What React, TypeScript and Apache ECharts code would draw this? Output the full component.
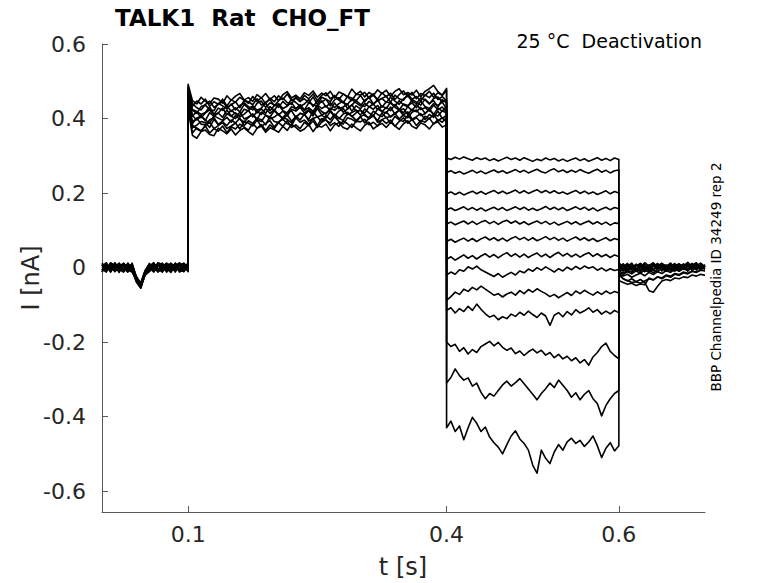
import React, { useEffect, useRef } from "react";
import * as echarts from "echarts";

// ---- axes ----
const X_MIN = 0;
const X_MAX = 0.7;
const Y_MIN = -0.656;
const Y_MAX = 0.6;
const xTickValues = [0.1, 0.4, 0.6];
const yTickValues = [-0.6, -0.4, -0.2, 0, 0.2, 0.4, 0.6];

// ---- texts ----
const titleText = "TALK1  Rat  CHO_FT";
const conditionText = "25 °C  Deactivation";
const sourceText = "BBP Channelpedia ID 34249 rep 2";
const xName = "t [s]";
const yName = "I [nA]";

// ---- sampling: each phase is sampled every 5 ms from its start time (s) ----
const SAMPLE_STEP = 0.005;
const phaseStarts = [0, 0.1, 0.4, 0.6];

// baseline 0 .. 0.1 s (nA)
const baselineTraces = [
  [0.006, -0.008, 0.011, -0.004, 0.008, -0.011, 0.003, 0.009, -0.03, -0.046, -0.012, 0.005, -0.007, 0.012, -0.003, 0.008, -0.01, 0.004, 0.013, -0.006, 0.003],
  [-0.007, 0.009, -0.003, 0.012, -0.01, 0.005, -0.008, 0.004, -0.036, -0.052, -0.018, -0.004, 0.009, -0.008, 0.007, -0.012, 0.005, -0.003, 0.008, 0.011, -0.004],
  [0.012, -0.003, 0.005, -0.011, 0.004, 0.011, -0.004, -0.008, -0.026, -0.042, -0.009, 0.008, -0.011, 0.004, 0.011, -0.005, 0.012, -0.008, -0.003, 0.007, 0.009],
  [-0.011, 0.004, -0.012, 0.007, 0.001, -0.005, 0.012, -0.003, -0.038, -0.055, -0.02, -0.011, 0.003, -0.012, 0.005, 0.009, -0.004, 0.011, -0.009, 0.003, -0.008],
  [0.003, 0.013, -0.007, 0.003, -0.013, 0.008, 0.005, -0.011, -0.031, -0.048, -0.014, 0.003, 0.013, -0.005, -0.011, 0.004, 0.008, -0.012, 0.005, -0.008, 0.007],
  [-0.004, -0.012, 0.008, -0.007, 0.011, -0.003, -0.012, 0.007, -0.024, -0.043, -0.016, -0.008, 0.005, 0.009, -0.007, -0.003, -0.013, 0.007, -0.005, 0.012, -0.001],
  [0.009, 0.001, -0.009, 0.013, -0.005, -0.012, 0.008, 0.001, -0.034, -0.05, -0.01, 0.011, -0.004, -0.009, 0.012, -0.011, 0.003, 0.009, -0.012, -0.004, 0.011],
  [-0.008, 0.007, 0.004, -0.009, 0.009, 0.003, -0.007, -0.012, -0.033, -0.054, -0.017, -0.001, -0.012, 0.007, 0.003, 0.012, -0.008, -0.005, 0.011, 0.004, -0.011],
  [0.001, -0.005, 0.013, 0.005, -0.008, 0.012, -0.001, 0.008, -0.027, -0.045, -0.012, 0.007, 0.008, -0.003, -0.009, 0.001, 0.011, 0.003, -0.007, -0.011, 0.005],
  [-0.012, 0.011, -0.005, -0.001, 0.007, -0.008, 0.011, -0.005, -0.035, -0.05, -0.019, -0.005, -0.008, 0.013, 0.008, -0.008, -0.005, 0.012, 0.003, 0.008, -0.007],
  [0.008, -0.009, 0.003, 0.009, -0.003, 0.007, -0.011, 0.012, -0.029, -0.041, -0.008, 0.009, 0.004, -0.011, -0.004, 0.011, 0.007, -0.009, 0.009, -0.003, 0.012],
  [-0.003, 0.005, -0.011, 0.003, 0.012, -0.009, 0.004, -0.009, -0.039, -0.055, -0.015, 0.001, -0.005, 0.008, -0.012, 0.005, -0.011, 0.005, -0.008, 0.009, 0.001],
  [0.007, -0.004, 0.009, -0.008, -0.004, 0.009, -0.005, 0.005, -0.032, -0.047, -0.013, -0.009, 0.011, -0.007, 0.009, -0.004, 0.009, -0.007, 0.007, -0.009, 0.004],
];

// activation 0.1 .. 0.4 s (nA)
const activationTraces = [
  [0.492, 0.448, 0.439, 0.457, 0.446, 0.44, 0.455, 0.452, 0.441, 0.461, 0.449, 0.46, 0.467, 0.45, 0.456, 0.446, 0.464, 0.455, 0.467, 0.451, 0.461, 0.448, 0.464, 0.472, 0.455, 0.463, 0.453, 0.469, 0.462, 0.474, 0.457, 0.468, 0.461, 0.473, 0.455, 0.471, 0.466, 0.458, 0.479, 0.465, 0.473, 0.458, 0.47, 0.462, 0.477, 0.467, 0.476, 0.459, 0.473, 0.48, 0.464, 0.47, 0.463, 0.476, 0.458, 0.473, 0.48, 0.489, 0.472, 0.463, 0.481],
  [0.486, 0.433, 0.447, 0.439, 0.452, 0.433, 0.445, 0.438, 0.452, 0.434, 0.45, 0.444, 0.457, 0.449, 0.441, 0.459, 0.446, 0.456, 0.44, 0.455, 0.445, 0.461, 0.451, 0.466, 0.448, 0.455, 0.445, 0.462, 0.453, 0.466, 0.448, 0.462, 0.469, 0.453, 0.461, 0.451, 0.466, 0.458, 0.448, 0.465, 0.463, 0.47, 0.455, 0.462, 0.452, 0.469, 0.459, 0.468, 0.451, 0.464, 0.474, 0.459, 0.47, 0.453, 0.467, 0.462, 0.473, 0.457, 0.469, 0.462, 0.475],
  [0.478, 0.44, 0.429, 0.423, 0.438, 0.447, 0.43, 0.438, 0.446, 0.43, 0.437, 0.445, 0.429, 0.448, 0.445, 0.437, 0.453, 0.436, 0.444, 0.451, 0.434, 0.448, 0.455, 0.443, 0.438, 0.459, 0.447, 0.453, 0.442, 0.458, 0.438, 0.457, 0.452, 0.445, 0.462, 0.449, 0.442, 0.459, 0.455, 0.448, 0.462, 0.445, 0.458, 0.466, 0.447, 0.454, 0.46, 0.444, 0.463, 0.453, 0.449, 0.466, 0.452, 0.459, 0.447, 0.463, 0.456, 0.468, 0.451, 0.459, 0.447],
  [0.47, 0.422, 0.414, 0.432, 0.436, 0.424, 0.421, 0.441, 0.434, 0.426, 0.439, 0.423, 0.435, 0.442, 0.432, 0.423, 0.441, 0.447, 0.43, 0.442, 0.437, 0.43, 0.446, 0.435, 0.452, 0.443, 0.433, 0.439, 0.451, 0.432, 0.447, 0.444, 0.452, 0.434, 0.45, 0.456, 0.443, 0.438, 0.452, 0.442, 0.434, 0.449, 0.457, 0.439, 0.448, 0.454, 0.443, 0.457, 0.447, 0.438, 0.453, 0.461, 0.446, 0.44, 0.455, 0.45, 0.439, 0.454, 0.458, 0.444, 0.45],
  [0.466, 0.424, 0.419, 0.411, 0.416, 0.431, 0.411, 0.428, 0.422, 0.434, 0.419, 0.429, 0.418, 0.438, 0.427, 0.434, 0.422, 0.428, 0.442, 0.421, 0.435, 0.44, 0.427, 0.433, 0.443, 0.426, 0.437, 0.423, 0.442, 0.437, 0.432, 0.448, 0.431, 0.442, 0.429, 0.44, 0.446, 0.427, 0.436, 0.448, 0.438, 0.432, 0.446, 0.438, 0.451, 0.43, 0.445, 0.441, 0.433, 0.448, 0.437, 0.431, 0.451, 0.444, 0.436, 0.452, 0.44, 0.448, 0.431, 0.451, 0.442],
  [0.46, 0.407, 0.418, 0.402, 0.415, 0.423, 0.41, 0.415, 0.428, 0.41, 0.422, 0.413, 0.408, 0.425, 0.421, 0.431, 0.415, 0.426, 0.414, 0.432, 0.422, 0.437, 0.421, 0.415, 0.432, 0.426, 0.436, 0.422, 0.429, 0.419, 0.436, 0.427, 0.434, 0.422, 0.442, 0.426, 0.431, 0.439, 0.42, 0.434, 0.426, 0.441, 0.431, 0.439, 0.424, 0.434, 0.427, 0.444, 0.43, 0.423, 0.439, 0.435, 0.442, 0.429, 0.447, 0.432, 0.427, 0.44, 0.435, 0.444, 0.426],
  [0.455, 0.408, 0.396, 0.406, 0.395, 0.416, 0.406, 0.415, 0.403, 0.423, 0.407, 0.415, 0.404, 0.412, 0.422, 0.404, 0.419, 0.411, 0.427, 0.414, 0.424, 0.41, 0.42, 0.407, 0.425, 0.42, 0.43, 0.415, 0.424, 0.413, 0.431, 0.419, 0.412, 0.428, 0.422, 0.432, 0.417, 0.425, 0.437, 0.42, 0.422, 0.415, 0.432, 0.425, 0.435, 0.418, 0.43, 0.421, 0.438, 0.425, 0.415, 0.432, 0.421, 0.438, 0.424, 0.429, 0.42, 0.436, 0.424, 0.431, 0.418],
  [0.45, 0.387, 0.4, 0.408, 0.395, 0.388, 0.407, 0.401, 0.395, 0.413, 0.406, 0.4, 0.418, 0.399, 0.404, 0.412, 0.398, 0.417, 0.409, 0.404, 0.421, 0.409, 0.402, 0.416, 0.421, 0.402, 0.414, 0.41, 0.421, 0.407, 0.427, 0.41, 0.415, 0.422, 0.407, 0.42, 0.427, 0.41, 0.416, 0.423, 0.409, 0.426, 0.415, 0.407, 0.426, 0.419, 0.415, 0.431, 0.412, 0.422, 0.426, 0.411, 0.425, 0.418, 0.43, 0.414, 0.423, 0.411, 0.428, 0.42, 0.432],
  [0.444, 0.391, 0.401, 0.385, 0.383, 0.397, 0.402, 0.384, 0.393, 0.403, 0.39, 0.408, 0.398, 0.391, 0.403, 0.412, 0.396, 0.392, 0.409, 0.399, 0.404, 0.413, 0.397, 0.41, 0.393, 0.404, 0.414, 0.41, 0.398, 0.419, 0.404, 0.409, 0.401, 0.419, 0.405, 0.399, 0.412, 0.417, 0.405, 0.415, 0.423, 0.408, 0.402, 0.42, 0.411, 0.405, 0.418, 0.404, 0.414, 0.423, 0.408, 0.402, 0.417, 0.423, 0.408, 0.413, 0.426, 0.411, 0.407, 0.421, 0.415],
  [0.44, 0.375, 0.382, 0.392, 0.389, 0.376, 0.398, 0.383, 0.391, 0.381, 0.396, 0.388, 0.401, 0.381, 0.394, 0.387, 0.401, 0.397, 0.383, 0.406, 0.392, 0.389, 0.402, 0.398, 0.388, 0.407, 0.396, 0.412, 0.393, 0.4, 0.405, 0.391, 0.408, 0.397, 0.412, 0.401, 0.395, 0.414, 0.407, 0.395, 0.405, 0.411, 0.399, 0.407, 0.394, 0.415, 0.402, 0.406, 0.414, 0.399, 0.41, 0.418, 0.398, 0.405, 0.413, 0.397, 0.411, 0.403, 0.42, 0.4, 0.409],
  [0.436, 0.383, 0.372, 0.366, 0.381, 0.39, 0.373, 0.381, 0.389, 0.373, 0.38, 0.388, 0.372, 0.391, 0.388, 0.38, 0.396, 0.379, 0.387, 0.394, 0.377, 0.391, 0.398, 0.386, 0.381, 0.402, 0.39, 0.396, 0.385, 0.401, 0.381, 0.4, 0.395, 0.388, 0.405, 0.392, 0.385, 0.402, 0.398, 0.391, 0.405, 0.388, 0.401, 0.409, 0.39, 0.397, 0.403, 0.387, 0.406, 0.396, 0.392, 0.409, 0.395, 0.402, 0.39, 0.406, 0.399, 0.411, 0.394, 0.402, 0.39],
  [0.43, 0.361, 0.375, 0.367, 0.38, 0.361, 0.373, 0.366, 0.38, 0.362, 0.378, 0.372, 0.385, 0.377, 0.369, 0.387, 0.374, 0.384, 0.368, 0.383, 0.373, 0.389, 0.379, 0.394, 0.376, 0.383, 0.373, 0.39, 0.381, 0.394, 0.376, 0.39, 0.397, 0.381, 0.389, 0.379, 0.394, 0.386, 0.376, 0.393, 0.391, 0.398, 0.383, 0.39, 0.38, 0.397, 0.387, 0.396, 0.379, 0.392, 0.402, 0.387, 0.398, 0.381, 0.395, 0.39, 0.401, 0.385, 0.397, 0.39, 0.403],
  [0.425, 0.355, 0.347, 0.365, 0.369, 0.357, 0.354, 0.374, 0.367, 0.359, 0.372, 0.356, 0.368, 0.375, 0.365, 0.356, 0.374, 0.38, 0.363, 0.375, 0.37, 0.363, 0.379, 0.368, 0.385, 0.376, 0.366, 0.372, 0.384, 0.365, 0.38, 0.377, 0.385, 0.367, 0.383, 0.389, 0.376, 0.371, 0.385, 0.375, 0.367, 0.382, 0.39, 0.372, 0.381, 0.387, 0.376, 0.39, 0.38, 0.371, 0.386, 0.394, 0.379, 0.373, 0.388, 0.383, 0.372, 0.387, 0.391, 0.377, 0.383],
];

// deactivation 0.4 .. 0.6 s (nA)
const deactivationTraces = [
  [0.294, 0.29, 0.296, 0.291, 0.297, 0.292, 0.288, 0.295, 0.29, 0.294, 0.287, 0.292, 0.286, 0.291, 0.296, 0.29, 0.294, 0.288, 0.295, 0.29, 0.285, 0.291, 0.287, 0.294, 0.289, 0.293, 0.286, 0.291, 0.285, 0.29, 0.294, 0.287, 0.292, 0.285, 0.29, 0.295, 0.288, 0.293, 0.287, 0.294, 0.29],
  [0.255, 0.26, 0.253, 0.258, 0.251, 0.256, 0.261, 0.254, 0.259, 0.252, 0.257, 0.262, 0.255, 0.26, 0.253, 0.258, 0.263, 0.256, 0.261, 0.254, 0.259, 0.264, 0.257, 0.254, 0.261, 0.265, 0.257, 0.262, 0.255, 0.261, 0.256, 0.263, 0.257, 0.253, 0.259, 0.264, 0.256, 0.261, 0.254, 0.26, 0.262],
  [0.198, 0.203, 0.196, 0.202, 0.195, 0.2, 0.205, 0.198, 0.204, 0.197, 0.202, 0.207, 0.199, 0.205, 0.198, 0.203, 0.208, 0.2, 0.206, 0.199, 0.204, 0.209, 0.201, 0.207, 0.2, 0.206, 0.199, 0.203, 0.197, 0.202, 0.207, 0.199, 0.205, 0.198, 0.203, 0.196, 0.201, 0.206, 0.198, 0.204, 0.2],
  [0.155, 0.16, 0.153, 0.158, 0.163, 0.155, 0.161, 0.154, 0.16, 0.152, 0.157, 0.162, 0.155, 0.161, 0.153, 0.158, 0.163, 0.156, 0.162, 0.154, 0.159, 0.153, 0.158, 0.164, 0.156, 0.162, 0.155, 0.161, 0.153, 0.158, 0.163, 0.156, 0.162, 0.154, 0.16, 0.152, 0.157, 0.162, 0.155, 0.161, 0.158],
  [0.117, 0.122, 0.115, 0.12, 0.125, 0.117, 0.124, 0.116, 0.122, 0.126, 0.118, 0.124, 0.116, 0.123, 0.127, 0.119, 0.125, 0.117, 0.123, 0.115, 0.12, 0.125, 0.118, 0.124, 0.116, 0.122, 0.114, 0.119, 0.124, 0.117, 0.123, 0.115, 0.12, 0.125, 0.117, 0.123, 0.116, 0.122, 0.114, 0.12, 0.118],
  [0.07, 0.076, 0.068, 0.074, 0.079, 0.071, 0.078, 0.07, 0.077, 0.082, 0.074, 0.08, 0.072, 0.079, 0.071, 0.078, 0.083, 0.075, 0.081, 0.073, 0.08, 0.072, 0.077, 0.083, 0.075, 0.081, 0.073, 0.079, 0.071, 0.077, 0.082, 0.074, 0.08, 0.072, 0.078, 0.07, 0.075, 0.08, 0.072, 0.078, 0.074],
  [0.022, 0.029, 0.02, 0.027, 0.034, 0.025, 0.032, 0.023, 0.031, 0.037, 0.028, 0.035, 0.026, 0.034, 0.04, 0.03, 0.037, 0.028, 0.036, 0.027, 0.034, 0.039, 0.029, 0.036, 0.027, 0.035, 0.041, 0.031, 0.038, 0.029, 0.036, 0.028, 0.035, 0.04, 0.03, 0.037, 0.029, 0.035, 0.027, 0.034, 0.03],
  [-0.02, -0.012, -0.018, -0.006, -0.01, 0.002, -0.004, 0.004, -0.006, -0.012, -0.018, -0.024, -0.016, -0.026, -0.019, -0.013, -0.02, -0.009, -0.014, -0.004, -0.01, 0.0, -0.007, 0.002, -0.005, -0.012, -0.003, -0.009, 0.001, -0.006, 0.003, -0.004, 0.004, -0.002, 0.002, -0.007, -0.001, -0.009, -0.003, -0.008, -0.005],
  [-0.088, -0.078, -0.066, -0.072, -0.058, -0.064, -0.053, -0.06, -0.05, -0.058, -0.066, -0.074, -0.07, -0.079, -0.071, -0.066, -0.074, -0.062, -0.07, -0.059, -0.066, -0.057, -0.064, -0.07, -0.078, -0.072, -0.081, -0.074, -0.067, -0.075, -0.063, -0.07, -0.061, -0.068, -0.074, -0.065, -0.072, -0.063, -0.07, -0.064, -0.068],
  [-0.115, -0.108, -0.122, -0.11, -0.118, -0.104, -0.115, -0.098, -0.112, -0.124, -0.133, -0.128, -0.14, -0.132, -0.137, -0.125, -0.131, -0.12, -0.128, -0.117, -0.126, -0.134, -0.122, -0.13, -0.155, -0.128, -0.121, -0.132, -0.118, -0.127, -0.113, -0.122, -0.116, -0.108, -0.12, -0.113, -0.125, -0.117, -0.124, -0.115, -0.121],
  [-0.2, -0.212, -0.206, -0.225, -0.215, -0.232, -0.22, -0.228, -0.212, -0.205, -0.198, -0.21, -0.201, -0.214, -0.222, -0.216, -0.231, -0.224, -0.236, -0.226, -0.219, -0.229, -0.222, -0.235, -0.228, -0.242, -0.233, -0.245, -0.238, -0.25, -0.242, -0.256, -0.247, -0.262, -0.24, -0.228, -0.212, -0.203, -0.225, -0.236, -0.245],
  [-0.31, -0.295, -0.272, -0.29, -0.302, -0.296, -0.318, -0.31, -0.335, -0.352, -0.338, -0.345, -0.33, -0.315, -0.305, -0.318, -0.309, -0.298, -0.312, -0.326, -0.34, -0.355, -0.338, -0.325, -0.31, -0.322, -0.302, -0.316, -0.33, -0.348, -0.336, -0.355, -0.34, -0.33, -0.352, -0.365, -0.398, -0.37, -0.352, -0.338, -0.33],
  [-0.43, -0.412, -0.44, -0.425, -0.462, -0.43, -0.402, -0.418, -0.44, -0.428, -0.455, -0.47, -0.482, -0.5, -0.475, -0.452, -0.438, -0.46, -0.472, -0.49, -0.53, -0.552, -0.49, -0.512, -0.526, -0.495, -0.475, -0.49, -0.468, -0.458, -0.472, -0.464, -0.48, -0.468, -0.452, -0.478, -0.51, -0.485, -0.47, -0.492, -0.478],
];

// tail 0.6 .. 0.7 s (nA)
const tailTraces = [
  [0.009, -0.005, 0.008, -0.009, 0.004, 0.011, -0.003, 0.007, -0.008, 0.005, 0.012, -0.004, 0.008, -0.007, 0.003, 0.01, -0.005, 0.007, 0.013, -0.003, 0.005],
  [0.013, 0.002, 0.011, -0.004, 0.009, -0.001, 0.013, 0.004, 0.01, -0.005, 0.008, 0.001, 0.012, -0.003, 0.009, 0.004, 0.014, 0.001, 0.008, -0.004, 0.006],
  [-0.004, 0.008, -0.007, 0.005, -0.01, 0.003, 0.009, -0.005, 0.004, 0.011, -0.003, 0.007, -0.009, 0.005, 0.01, -0.004, 0.003, 0.011, -0.007, 0.008, 0.001],
  [0.006, -0.01, 0.003, 0.012, -0.004, 0.008, -0.009, 0.005, 0.013, -0.001, 0.007, -0.008, 0.004, 0.011, -0.005, 0.005, -0.01, 0.004, 0.009, -0.003, 0.008],
  [-0.008, 0.004, -0.011, 0.001, 0.008, -0.007, 0.005, -0.01, 0.003, 0.009, -0.008, 0.004, 0.011, -0.005, 0.001, 0.008, -0.007, 0.009, -0.004, 0.005, -0.003],
  [0.001, 0.01, -0.003, 0.007, -0.008, 0.011, 0.003, -0.007, 0.008, -0.004, 0.01, 0.005, -0.005, 0.008, -0.009, 0.004, 0.011, -0.003, 0.005, 0.012, 0.002],
  [-0.012, -0.003, -0.01, 0.004, -0.007, 0.003, -0.011, 0.001, -0.005, 0.007, -0.009, 0.003, -0.004, -0.01, 0.005, -0.003, 0.008, -0.008, 0.001, -0.005, 0.004],
  [-0.009, -0.015, -0.007, -0.013, -0.004, -0.011, 0.001, -0.007, -0.014, -0.005, 0.003, -0.009, -0.003, 0.005, -0.006, 0.001, -0.005, 0.006, -0.001, 0.004, -0.004],
  [-0.013, -0.019, -0.011, -0.017, -0.009, -0.015, -0.007, -0.012, -0.005, -0.011, -0.003, -0.009, -0.001, -0.007, 0.003, -0.005, 0.004, -0.004, 0.005, -0.003, 0.001],
  [-0.016, -0.023, -0.018, -0.026, -0.02, -0.015, -0.022, -0.013, -0.019, -0.011, -0.016, -0.008, -0.013, -0.005, -0.01, -0.003, -0.008, 0.001, -0.005, 0.002, -0.004],
  [-0.02, -0.03, -0.035, -0.04, -0.038, -0.042, -0.036, -0.03, -0.033, -0.025, -0.028, -0.02, -0.023, -0.016, -0.019, -0.012, -0.015, -0.01, -0.012, -0.006, -0.008],
  [-0.035, -0.04, -0.045, -0.042, -0.048, -0.044, -0.046, -0.028, -0.033, -0.025, -0.03, -0.022, -0.026, -0.018, -0.021, -0.014, -0.017, -0.01, -0.013, -0.007, -0.009],
  [-0.015, -0.03, -0.036, -0.03, -0.038, -0.032, -0.04, -0.062, -0.066, -0.05, -0.036, -0.032, -0.035, -0.028, -0.03, -0.025, -0.027, -0.02, -0.023, -0.018, -0.021],
];

const phases = [baselineTraces, activationTraces, deactivationTraces, tailTraces];

function buildTrace(k: number): [number, number][] {
  const pts: [number, number][] = [];
  phases.forEach((phase, p) => {
    const start = phaseStarts[p];
    phase[k].forEach((v, i) => {
      pts.push([Number((start + i * SAMPLE_STEP).toFixed(4)), v]);
    });
  });
  return pts;
}

const FONT = '"DejaVu Sans", "Noto Sans", sans-serif';
const AXIS_COLOR = "#5a5a5a";
const LABEL_COLOR = "#262626";

export default function App() {
  const ref = useRef<HTMLDivElement>(null);

  useEffect(() => {
    if (!ref.current) return;
    const chart = echarts.init(ref.current, undefined, { renderer: "svg" });

    const series = deactivationTraces.map((_, k) => ({
      type: "line",
      data: buildTrace(k),
      showSymbol: false,
      symbol: "none",
      silent: true,
      lineStyle: { color: "#000000", width: 1.6, join: "round" },
      z: 2,
    }));

    chart.setOption({
      animation: false,
      textStyle: { fontFamily: FONT },
      grid: {
        left: 102,
        right: 73,
        top: 44,
        bottom: 71,
        containLabel: false,
        outerBoundsMode: "none",
      },
      xAxis: {
        type: "value",
        min: X_MIN,
        max: X_MAX,
        axisLine: { show: true, onZero: false, lineStyle: { color: AXIS_COLOR, width: 1 } },
        axisTick: {
          show: true,
          inside: true,
          length: 6,
          customValues: xTickValues,
          lineStyle: { color: AXIS_COLOR, width: 1 },
        },
        axisLabel: {
          show: true,
          customValues: xTickValues,
          fontSize: 22,
          color: LABEL_COLOR,
          fontFamily: FONT,
          margin: 11,
        },
        splitLine: { show: false },
      },
      yAxis: {
        type: "value",
        min: Y_MIN,
        max: Y_MAX,
        axisLine: { show: true, onZero: false, lineStyle: { color: AXIS_COLOR, width: 1 } },
        axisTick: {
          show: true,
          inside: true,
          length: 6,
          customValues: yTickValues,
          lineStyle: { color: AXIS_COLOR, width: 1 },
        },
        axisLabel: {
          show: true,
          customValues: yTickValues,
          fontSize: 22,
          color: LABEL_COLOR,
          fontFamily: FONT,
          margin: 16,
        },
        splitLine: { show: false },
      },
      graphic: [
        {
          type: "text",
          x: 115,
          y: 18,
          style: {
            text: titleText,
            fontSize: 23,
            fontWeight: "bold",
            fontFamily: FONT,
            fill: "#000000",
            textAlign: "left",
            textVerticalAlign: "middle",
          },
        },
        {
          type: "text",
          x: 702,
          y: 41,
          style: {
            text: conditionText,
            fontSize: 19,
            fontFamily: FONT,
            fill: "#000000",
            textAlign: "right",
            textVerticalAlign: "middle",
          },
        },
        {
          type: "text",
          x: 716,
          y: 277,
          rotation: Math.PI / 2,
          style: {
            text: sourceText,
            fontSize: 13.5,
            fontFamily: FONT,
            fill: "#000000",
            textAlign: "center",
            textVerticalAlign: "middle",
          },
        },
        {
          type: "text",
          x: 31,
          y: 278,
          rotation: Math.PI / 2,
          style: {
            text: yName,
            fontSize: 24,
            fontFamily: FONT,
            fill: LABEL_COLOR,
            textAlign: "center",
            textVerticalAlign: "middle",
          },
        },
        {
          type: "text",
          x: 403,
          y: 567,
          style: {
            text: xName,
            fontSize: 24,
            fontFamily: FONT,
            fill: LABEL_COLOR,
            textAlign: "center",
            textVerticalAlign: "middle",
          },
        },
      ],
      series,
    });

    return () => chart.dispose();
  }, []);

  return (
    <div
      ref={ref}
      style={{ position: "absolute", left: 0, top: 0, width: 778, height: 583 }}
    />
  );
}
